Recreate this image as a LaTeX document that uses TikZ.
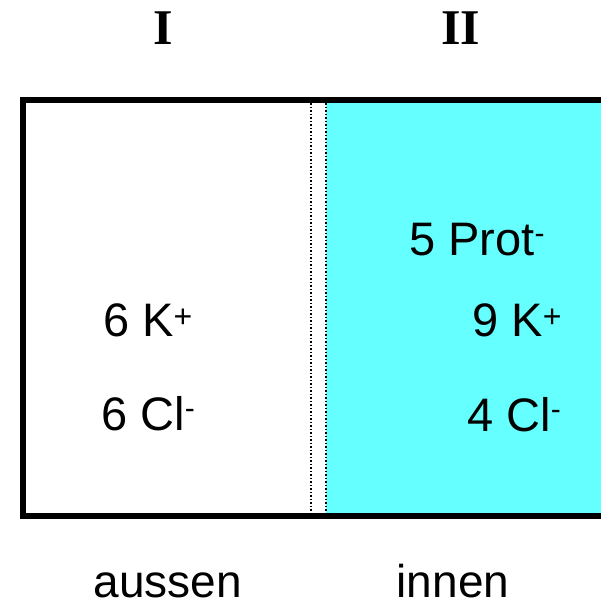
\documentclass[tikz,border=0pt]{standalone}
\usepackage{fontspec}
\setmainfont{Liberation Sans}
\newfontfamily\romanfont{Liberation Serif}
\definecolor{innencyan}{RGB}{102,255,255}
\newcommand{\supplus}{\raisebox{9pt}{\fontsize{32}{32}\selectfont +}}
\newcommand{\supminus}{\raisebox{12pt}{\fontsize{30}{30}\selectfont -}}
\begin{document}
\begin{tikzpicture}[x=1pt,y=-1pt,
  ion/.style={inner sep=0pt,anchor=base west,font=\fontsize{47}{50}\selectfont},
  lbl/.style={inner sep=0pt,anchor=base,font=\fontsize{46}{50}\selectfont},
  roman/.style={inner sep=0pt,anchor=base,font=\romanfont\bfseries\fontsize{50}{54}\selectfont},
  membrane/.style={line width=1.4pt,dash pattern=on 1.5pt off 2pt}]
\useasboundingbox (0,0) rectangle (601,608);
\fill[innencyan] (326,103) rectangle (601,513);
\coordinate (m1t) at (311,103);
\coordinate (m1b) at (311,513);
\coordinate (m2t) at (326,103);
\coordinate (m2b) at (326,513);
\draw[membrane] (m1t) -- (m1b);
\draw[membrane] (m2t) -- (m2b);
\draw[line width=6pt] (601,100) -- (23,100) -- (23,516) -- (601,516);
\node[roman] (r1) at (163,44) {I};
\node[roman] (r2) at (461,44) {II};
\node[ion] (k1) at (103,336) {6 K\supplus};
\node[ion] (cl1) at (101,430) {6 Cl\supminus};
\node[ion] (prot) at (409,255) {5 Prot\supminus};
\node[ion] (k2) at (472,336) {9 K\supplus};
\node[ion] (cl2) at (467,431) {4 Cl\supminus};
\node[lbl] (aus) at (168,597) {aussen};
\node[lbl] (inn) at (453,597) {innen};
\end{tikzpicture}
\end{document}
